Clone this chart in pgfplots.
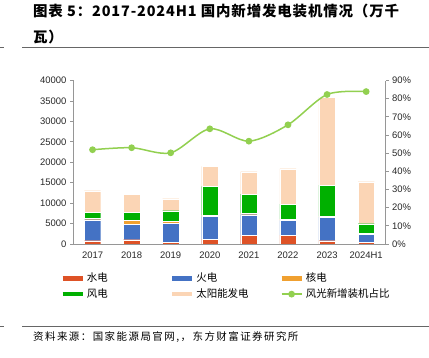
\documentclass[border=0pt]{standalone}
\usepackage{fontspec}
\setmainfont{Liberation Sans}
\newfontfamily\cjk{Noto Sans CJK SC}
\newfontfamily\cjksp{Noto Sans CJK SC}[LetterSpace=14]
\newfontfamily\cjktitle{Noto Sans CJK SC}[LetterSpace=6]
\usepackage{pgfplots}
\pgfplotsset{compat=1.18}
\definecolor{hydro}{RGB}{222,82,38}
\definecolor{thermal}{RGB}{68,114,196}
\definecolor{nuclear}{RGB}{240,160,48}
\definecolor{wind}{RGB}{0,176,0}
\definecolor{solar}{RGB}{251,213,181}
\definecolor{ratio}{RGB}{146,208,80}
\definecolor{axgray}{RGB}{150,150,150}
\definecolor{txt}{RGB}{40,40,40}
\begin{document}
\begin{tikzpicture}
\path[use as bounding box,fill=white] (0bp,0bp) rectangle (429bp,358bp);
% title
\node[anchor=north west,align=left,inner sep=0pt,font=\cjktitle\bfseries\fontsize{14.5}{26}\selectfont] at (33bp,354bp) {图表 5：2017-2024H1 国内新增发电装机情况（万千\\瓦）};
\draw[gray!80!black,line width=0.8bp] (22bp,310.7bp) -- (429bp,310.7bp);
\draw[gray!80!black,line width=0.8bp] (0bp,310.7bp) -- (4bp,310.7bp);
% bottom
\draw[gray!80!black,line width=0.8bp] (22bp,31.3bp) -- (429bp,31.3bp);
\draw[gray!80!black,line width=0.8bp] (0bp,31.3bp) -- (4bp,31.3bp);
\node[anchor=west,inner sep=0pt,font=\cjksp\fontsize{10.5}{12}\selectfont] at (33bp,21bp) {资料来源：国家能源局官网,，东方财富证券研究所};
\begin{axis}[
  at={(73bp,114bp)}, anchor=south west,
  scale only axis, width=312.7bp, height=163.5bp,
  ybar stacked, bar width=16.3bp,
  xmin=-0.5, xmax=7.5, ymin=0, ymax=40000,
  axis y line*=left, axis x line*=bottom,
  axis line style={axgray,line width=0.7bp},
  xtick={0,...,7},
  xticklabels={2017,2018,2019,2020,2021,2022,2023,2024H1},
  x tick style={draw=none},
  extra x ticks={-0.5,0.5,1.5,2.5,3.5,4.5,5.5,6.5,7.5},
  extra x tick labels={},
  extra x tick style={major tick length=3bp, tick align=outside, tick style={axgray,line width=0.7bp}},
  ytick={0,5000,...,40000},
  y tick style={axgray,line width=0.7bp},
  major tick length=3bp, tick align=outside,
  scaled y ticks=false,
  /pgf/number format/assume math mode=true,
  yticklabel style={/pgf/number format/.cd,fixed,1000 sep={}},
  ticklabel style={font=\fontsize{9.5}{11}\selectfont, text=txt},
  xticklabel style={yshift=-1bp},
]
\addplot[fill=hydro,draw=white,line width=0.3bp] coordinates {(0,815) (1,1059) (2,489) (3,1222) (4,2118) (5,2200) (6,815) (7,407)};
\addplot[fill=thermal,draw=white,line width=0.3bp] coordinates {(0,5132) (1,3748) (2,4643) (3,5540) (4,5051) (5,3584) (6,5784) (7,2037)};
\addplot[fill=nuclear,draw=white,line width=0.3bp] coordinates {(0,326) (1,977) (2,408) (3,244) (4,326) (5,326) (6,163) (7,163)};
\addplot[fill=wind,draw=white,line width=0.3bp] coordinates {(0,1548) (1,2037) (2,2607) (3,7088) (4,4725) (5,3666) (6,7658) (7,2363)};
\addplot[fill=solar,draw=white,line width=0.3bp] coordinates {(0,5213) (1,4399) (2,2933) (3,4888) (4,5458) (5,8635) (6,21507) (7,10264)};
\end{axis}
\begin{axis}[
  at={(73bp,114bp)}, anchor=south west,
  scale only axis, width=312.7bp, height=163.5bp,
  xmin=-0.5, xmax=7.5, ymin=0, ymax=90,
  axis y line*=right, hide x axis,
  xtick=\empty,
  axis line style={axgray,line width=0.7bp},
  ytick={0,10,...,90},
  yticklabel={\pgfmathprintnumber{\tick}\%},
  y tick style={axgray,line width=0.7bp},
  major tick length=3bp, tick align=outside,
  /pgf/number format/assume math mode=true,
  ticklabel style={font=\fontsize{9.5}{11}\selectfont, text=txt},
  legend columns=3,
  legend style={at={(-0.041,-0.165)}, anchor=north west, draw=none, fill=none, inner sep=0pt,
    font=\cjk\fontsize{10.5}{12}\selectfont, row sep=1.5bp, column sep=0pt},
  legend cell align=left,
]
\addlegendimage{legend image code/.code={\draw[hydro,line width=4.5bp] (0bp,0bp) -- (20bp,0bp);}}
\addlegendentry{\makebox[81bp][l]{水电}}
\addlegendimage{legend image code/.code={\draw[thermal,line width=4.5bp] (0bp,0bp) -- (20bp,0bp);}}
\addlegendentry{\makebox[81bp][l]{火电}}
\addlegendimage{legend image code/.code={\draw[nuclear,line width=4.5bp] (0bp,0bp) -- (20bp,0bp);}}
\addlegendentry{\makebox[81bp][l]{核电}}
\addlegendimage{legend image code/.code={\draw[wind,line width=4.5bp] (0bp,0bp) -- (20bp,0bp);}}
\addlegendentry{\makebox[81bp][l]{风电}}
\addlegendimage{legend image code/.code={\draw[solar,line width=4.5bp] (0bp,0bp) -- (20bp,0bp);}}
\addlegendentry{\makebox[81bp][l]{太阳能发电}}
\addplot[ratio, line width=1.5bp, smooth, mark=*, mark size=2.6bp, mark options={fill=ratio,draw=ratio},
  legend image code/.code={\draw[ratio,line width=1.5bp] (0bp,0bp) -- (20bp,0bp); \fill[ratio] (10bp,0bp) circle (2.6bp);}]
  coordinates {(0,51.9) (1,53.0) (2,50.2) (3,63.4) (4,56.6) (5,65.6) (6,82.3) (7,83.9)};
\addlegendentry{风光新增装机占比}
\end{axis}
\end{tikzpicture}
\end{document}
